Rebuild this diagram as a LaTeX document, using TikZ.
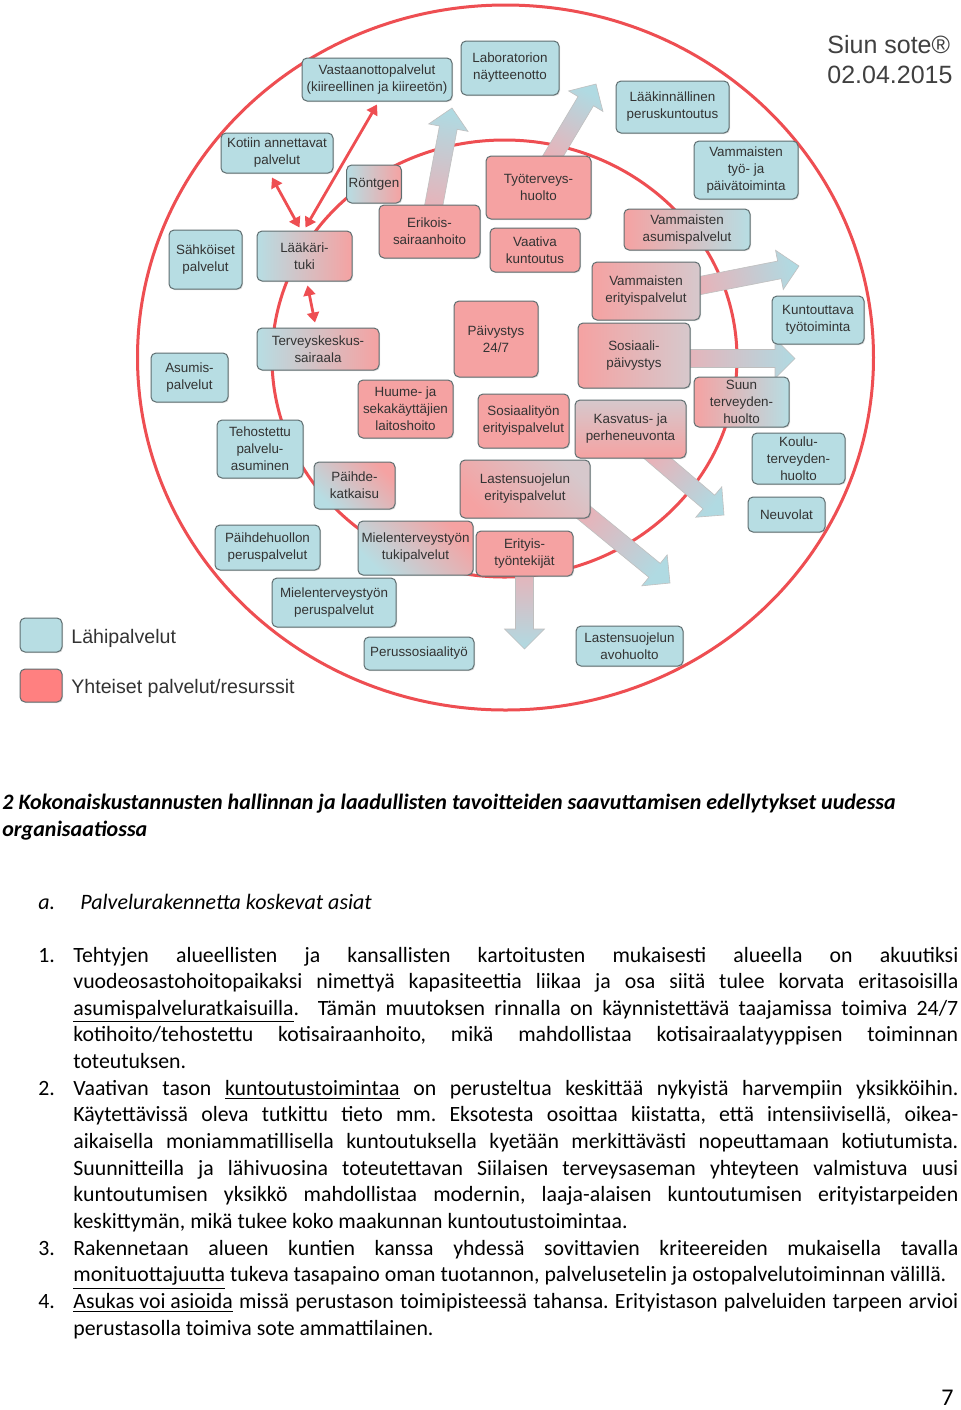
\documentclass[tikz,border=0pt]{standalone}
\usepackage{fontspec}
\setmainfont{Carlito}
\newfontfamily\diafont{Liberation Sans}
\usetikzlibrary{calc,shadows,backgrounds,arrows.meta}

\definecolor{lahiblue}{RGB}{183,221,227}
\definecolor{yhtpink}{RGB}{245,162,162}
\definecolor{legpink}{RGB}{255,128,128}
\definecolor{greypink}{RGB}{214,200,204}
\definecolor{ringred}{RGB}{238,78,82}
\definecolor{boxline}{RGB}{95,110,112}
\definecolor{arrblue}{RGB}{176,218,226}
\definecolor{arrpink}{RGB}{232,178,184}

\tolerance=10000
\hyphenpenalty=10000
\frenchspacing

% gradient block arrow: start, tip, shading angle
\newcommand{\bigarrow}[3]{%
  \coordinate (ba-s) at (#1);
  \coordinate (ba-t) at (#2);
  \coordinate (ba-h) at ($(ba-t)!10pt!(ba-s)$);
  \draw[bigarr, shading angle=#3]
    ($(ba-s)!4.5pt!90:(ba-t)$) -- ($(ba-h)!4.5pt!90:(ba-t)$) -- ($(ba-h)!10pt!90:(ba-t)$)
    -- (ba-t) -- ($(ba-h)!10pt!-90:(ba-t)$) -- ($(ba-h)!4.5pt!-90:(ba-t)$)
    -- ($(ba-s)!4.5pt!-90:(ba-t)$) -- cycle;
}

\begin{document}
\begin{tikzpicture}[x=0.5pt, y=-0.5pt,
    box/.style={draw=boxline, line width=0.5pt, rounded corners=2.5pt, align=center,
      inner sep=1pt, text=black!80, font=\diafont\fontsize{6.7}{8.5}\selectfont,
      drop shadow={shadow xshift=0.5pt, shadow yshift=-0.5pt, opacity=0.25}},
    sz/.style 2 args={minimum width=#1*0.5pt, minimum height=#2*0.5pt},
    lahi/.style={box, fill=lahiblue},
    yht/.style={box, fill=yhtpink},
    bluepink/.style={box, left color=lahiblue, right color=yhtpink},
    pinkblue/.style={box, left color=yhtpink, right color=lahiblue},
    pinkgrey/.style={box, left color=yhtpink, right color=greypink},
    diagpink/.style={box, top color=yhtpink, bottom color=lahiblue, shading angle=-45},
    ring/.style={draw=ringred, line width=1.5pt},
    redarr/.style={draw=ringred, line width=1.4pt, <->, >={Triangle[length=5pt,width=6pt]}},
    bigarr/.style={draw=black!25, line width=0.3pt, top color=arrblue, bottom color=arrpink},
    legtext/.style={anchor=base west, inner sep=0pt, text=black!80, font=\diafont\fontsize{9.8}{12}\selectfont},
    para/.style={anchor=base west, inner sep=0pt, text width=442.5pt, align=justify,
      font=\fontsize{10.9}{13.33}\selectfont},
    plain/.style={anchor=base west, inner sep=0pt, font=\fontsize{10.9}{13.33}\selectfont}]
    \useasboundingbox (0,0) rectangle (960,1410);

    % lahipalvelut
    \node[lahi, sz={150}{43}] (vast) at (377,79.5) {Vastaanottopalvelut\\(kiireellinen ja kiireetön)};
    \node[lahi, sz={98}{54}] (lab) at (510,68) {Laboratorion\\näytteenotto};
    \node[lahi, sz={113}{52}] (laak) at (672.5,107) {Lääkinnällinen\\peruskuntoutus};
    \node[lahi, sz={104}{58}] (vtyo) at (746,170) {Vammaisten\\työ- ja\\päivätoiminta};
    \node[lahi, sz={112}{40}] (koti) at (277,153) {Kotiin annettavat\\palvelut};
    \node[lahi, sz={73}{59}] (sahk) at (205.5,259.5) {Sähköiset\\palvelut};
    \node[lahi, sz={77}{49}] (asum) at (189.5,377.5) {Asumis-\\palvelut};
    \node[lahi, sz={86}{58}] (teho) at (260,449) {Tehostettu\\palvelu-\\asuminen};
    \node[lahi, sz={105}{45}] (paihp) at (267.5,547.5) {Päihdehuollon\\peruspalvelut};
    \node[lahi, sz={124}{49}] (mtper) at (334,602.5) {Mielenterveystyön\\peruspalvelut};
    \node[lahi, sz={110}{33}] (perus) at (419,653.5) {Perussosiaalityö};
    \node[lahi, sz={107}{40}] (lsavo) at (629.5,646) {Lastensuojelun\\avohuolto};
    \node[lahi, sz={92}{48}] (kuntt) at (818,320) {Kuntouttava\\työtoiminta};
    \node[lahi, sz={93}{51}] (koulu) at (798.5,458.5) {Koulu-\\terveyden-\\huolto};
    \node[lahi, sz={77}{35}] (neuv) at (786.5,514.5) {Neuvolat};

    % valimuodot
    \node[bluepink, sz={54}{38}] (ront) at (374,184) {Röntgen};
    \node[bluepink, sz={95}{50}] (ltuki) at (304.5,256) {Lääkäri-\\tuki};
    \node[bluepink, sz={122}{42}] (tks) at (318,349) {Terveyskeskus-\\sairaala};
    \node[diagpink, sz={81}{47}] (paihk) at (354.5,485.5) {Päihde-\\katkaisu};
    \node[diagpink, sz={115}{54}] (mttuki) at (415.5,548) {Mielenterveystyön\\tukipalvelut};
    \node[pinkblue, sz={126}{41}] (vasum) at (687,229.5) {Vammaisten\\asumispalvelut};
    \node[pinkblue, sz={95}{50}] (suun) at (741.5,402) {Suun\\terveyden-\\huolto};
    \node[pinkgrey, sz={108}{58}] (verit) at (646,291) {Vammaisten\\erityispalvelut};
    \node[pinkgrey, sz={112}{65}] (sospv) at (634,355.5) {Sosiaali-\\päivystys};
    \node[pinkgrey, sz={111}{58}, shading angle=180] (kasv) at (630.5,429) {Kasvatus- ja\\perheneuvonta};
    \node[pinkgrey, sz={130}{58}, shading angle=135] (lserit) at (525,489) {Lastensuojelun\\erityispalvelut};

    % yhteiset
    \node[yht, sz={101}{53}] (erik) at (429.5,231.5) {Erikois-\\sairaanhoito};
    \node[yht, sz={105}{63}] (tyot) at (538.5,187.5) {Työterveys-\\huolto};
    \node[yht, sz={90}{44}] (vaat) at (535,250) {Vaativa\\kuntoutus};
    \node[yht, sz={84}{76}] (paiv) at (496,339) {Päivystys\\24/7};
    \node[yht, sz={95}{58}] (huume) at (405.5,409) {Huume- ja\\sekakäyttäjien\\laitoshoito};
    \node[yht, sz={91}{54}] (soser) at (523.5,421) {Sosiaalityön\\erityispalvelut};
    \node[yht, sz={97}{45}] (erit) at (524.5,553.5) {Erityis-\\työntekijät};

    % selite
    \node[box, fill=lahiblue, sz={42}{34}, drop shadow={opacity=0}] (legL) at (41,635) {};
    \node[box, fill=legpink, sz={42}{33}, drop shadow={opacity=0}] (legY) at (41,685.5) {};
    \node[legtext] (legLt) at (71,643) {Lähipalvelut};
    \node[legtext] (legYt) at (71,693) {Yhteiset palvelut/resurssit};

    \node[anchor=base west, inner sep=0pt, text=black!75, font=\diafont\fontsize{12.5}{15}\selectfont] (siun) at (827,53) {Siun sote®};
    \node[anchor=base west, inner sep=0pt, text=black!75, font=\diafont\fontsize{12.5}{15}\selectfont] (pvm) at (827,83) {02.04.2015};

    \coordinate (tErik) at (452,108);
    \coordinate (tTyot) at (596,84);
    \coordinate (tVerit) at (799,266);
    \coordinate (tSospv) at (795,358.5);
    \coordinate (tKasv) at (724,515);
    \coordinate (tLserit) at (670,583);
    \coordinate (tErit) at (524.5,649);

    \begin{pgfonlayer}{background}
        \fill[white] (0,0) rectangle (960,1410);
        \draw[ring] (505.5,357.5) ellipse [x radius=184pt, y radius=176.25pt];
        \draw[ring] (504.5,358.5) ellipse [x radius=116.25pt, y radius=109.25pt];
        \bigarrow{$(erik.north)+(2.5,10)$}{tErik}{-10.6}
        \bigarrow{$(tyot.north)+(9.5,9)$}{tTyot}{-30.7}
        \bigarrow{$(verit.east)+(-8,-4)$}{tVerit}{-78.9}
        \bigarrow{$(sospv.east)+(-8,3)$}{tSospv}{-90}
        \bigarrow{$(kasv.south)+(18,-8)$}{tKasv}{-130.7}
        \bigarrow{$(lserit.south east)+(-14,-12)$}{tLserit}{-129.3}
        \bigarrow{$(erit.south)+(0,-8)$}{tErit}{-180}
    \end{pgfonlayer}

    \draw[redarr] ($(koti.south)+(-5,4)$) -- ($(ltuki.north)+(-5,-3)$);
    \draw[redarr] ($(vast.south)+(0,3)$) -- ($(ltuki.north)+(1,-3)$);
    \draw[redarr] ($(ltuki.south)+(3,4)$) -- ($(tks.north)+(-3,-5)$);

    % teksti
    \node[plain, font=\fontsize{11}{13.33}\selectfont\bfseries\itshape] (head1) at (2,809)
        {2 Kokonaiskustannusten hallinnan ja laadullisten tavoitteiden saavuttamisen edellytykset uudessa};
    \node[plain, font=\fontsize{11}{13.33}\selectfont\bfseries\itshape] (head2) at (2,836) {organisaatiossa};
    \node[plain, font=\fontsize{11}{13.33}\selectfont\itshape] (suba) at (38,909) {a.};
    \node[plain, font=\fontsize{11}{13.33}\selectfont\itshape] (subat) at (80,909) {Palvelurakennetta koskevat asiat};

    \node[plain] (num1) at (38,962) {1.};
    \node[para] (item1) at (73,962) {Tehtyjen alueellisten ja kansallisten kartoitusten mukaisesti alueella on akuutiksi\linebreak
        vuodeosastohoitopaikaksi nimettyä kapasiteettia liikaa ja osa siitä tulee korvata eritasoisilla\linebreak
        \underline{asumispalveluratkaisuilla}.\ \ Tämän muutoksen rinnalla on käynnistettävä taajamissa toimiva 24/7\linebreak
        kotihoito/tehostettu kotisairaanhoito, mikä mahdollistaa kotisairaalatyyppisen toiminnan\linebreak
        toteutuksen.};
    \node[plain] (num2) at (38,1095.3) {2.};
    \node[para] (item2) at (73,1095.3) {Vaativan tason \underline{kuntoutustoimintaa} on perusteltua keskittää nykyistä harvempiin yksikköihin.\linebreak
        Käytettävissä oleva tutkittu tieto mm. Eksotesta osoittaa kiistatta, että intensiivisellä, oikea-\linebreak
        aikaisella moniammatillisella kuntoutuksella kyetään merkittävästi nopeuttamaan kotiutumista.\linebreak
        Suunnitteilla ja lähivuosina toteutettavan Siilaisen terveysaseman yhteyteen valmistuva uusi\linebreak
        kuntoutumisen yksikkö mahdollistaa modernin, laaja-alaisen kuntoutumisen erityistarpeiden\linebreak
        keskittymän, mikä tukee koko maakunnan kuntoutustoimintaa.};
    \node[plain] (num3) at (38,1255.3) {3.};
    \node[para] (item3) at (73,1255.3) {Rakennetaan alueen kuntien kanssa yhdessä sovittavien kriteereiden mukaisella tavalla\linebreak
        \mbox{\underline{monituottajuutta} tukeva tasapaino oman tuotannon, palvelusetelin ja ostopalvelutoiminnan välillä.}};
    \node[plain] (num4) at (38,1308.7) {4.};
    \node[para] (item4) at (73,1308.7) {\underline{Asukas voi asioida} missä perustason toimipisteessä tahansa. Erityistason palveluiden tarpeen arvioi\linebreak
        perustasolla toimiva sote ammattilainen.};

    \node[anchor=base east, inner sep=0pt, font=\fontsize{12}{14}\selectfont] (sivu) at (954,1405) {7};
\end{tikzpicture}
\end{document}
